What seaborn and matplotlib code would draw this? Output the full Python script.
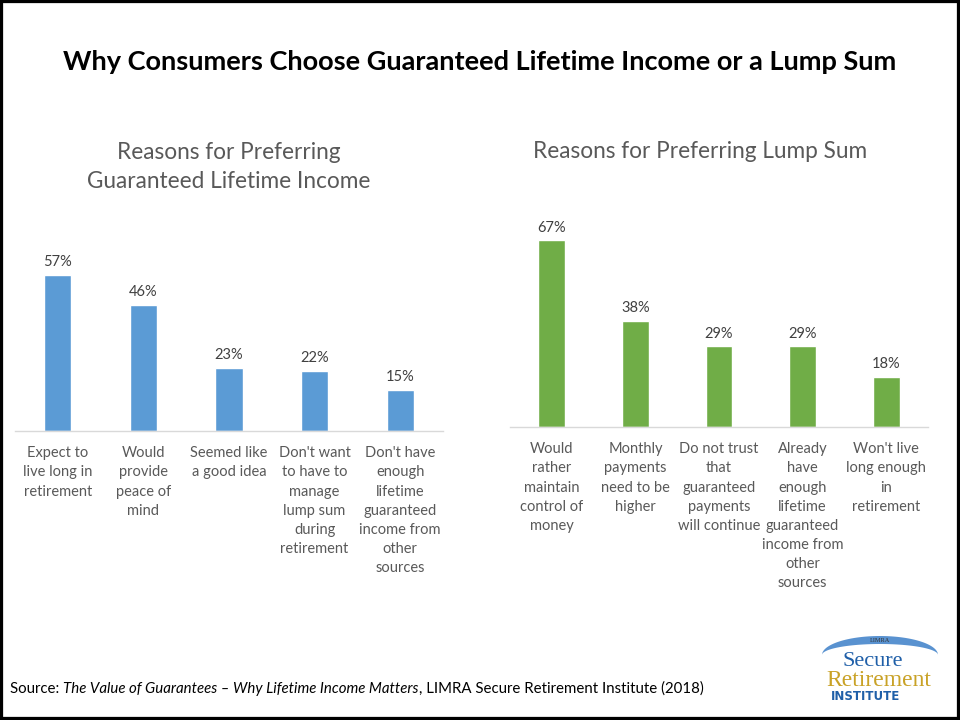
import matplotlib
matplotlib.use("Agg")
import matplotlib.pyplot as plt
import seaborn as sns
import numpy as np
import pandas as pd
from matplotlib.patches import Rectangle, Polygon

# data
income_reasons = ["Expect to\nlive long in\nretirement",
                  "Would\nprovide\npeace of\nmind",
                  "Seemed like\na good idea",
                  "Don't want\nto have to\nmanage\nlump sum\nduring\nretirement",
                  "Don't have\nenough\nlifetime\nguaranteed\nincome from\nother\nsources"]
income_pct = [57, 46, 23, 22, 15]

lump_reasons = ["Would\nrather\nmaintain\ncontrol of\nmoney",
                "Monthly\npayments\nneed to be\nhigher",
                "Do not trust\nthat\nguaranteed\npayments\nwill continue",
                "Already\nhave\nenough\nlifetime\nguaranteed\nincome from\nother\nsources",
                "Won't live\nlong enough\nin\nretirement"]
lump_pct = [67, 38, 29, 29, 18]

sns.set_style("white")
plt.rcParams['font.family'] = ['Lato', 'DejaVu Sans']

W, H = 960, 720
fig = plt.figure(figsize=(9.6, 7.2), dpi=100)

def px_axes(x0, x1, y_top, y_base):
    return fig.add_axes([x0 / W, (H - y_base) / H, (x1 - x0) / W, (y_base - y_top) / H])

def draw_panel(ax, labels, vals, color, top):
    df = pd.DataFrame({"reason": labels, "pct": vals})
    sns.barplot(data=df, x="reason", y="pct", color=color, width=0.32,
                saturation=1, ax=ax)
    ax.set_ylim(0, top)
    ax.set_xlim(-0.5, len(labels) - 0.5)
    ax.set_xlabel("")
    ax.set_ylabel("")
    ax.set_yticks([])
    for s in ["left", "right", "top"]:
        ax.spines[s].set_visible(False)
    ax.spines["bottom"].set_color("#D9D9D9")
    ax.spines["bottom"].set_linewidth(1)
    ax.tick_params(axis="x", length=0, pad=11, labelsize=10.5,
                   labelcolor="#595959")
    for t in ax.get_xticklabels():
        t.set_linespacing(1.47)
        t.set_verticalalignment("top")
    ax.bar_label(ax.containers[0], labels=[f"{v}%" for v in vals],
                 padding=4, fontsize=10.5, color="#404040")
    ax.patch.set_alpha(0)

ax1 = px_axes(15, 443, 200, 431)
draw_panel(ax1, income_reasons, income_pct, "#5B9BD5", (431 - 200) / 2.74)

ax2 = px_axes(510, 928, 200, 427)
draw_panel(ax2, lump_reasons, lump_pct, "#70AD47", (427 - 200) / 2.79)

# titles
fig.text(480 / W, 1 - 62 / H, "Why Consumers Choose Guaranteed Lifetime Income or a Lump Sum",
         ha="center", va="center", fontsize=19.5, fontweight="bold", color="black")
fig.text(229 / W, 1 - 167 / H, "Reasons for Preferring\nGuaranteed Lifetime Income",
         ha="center", va="center", fontsize=16.3, color="#595959", linespacing=1.5)
fig.text(700 / W, 1 - 152 / H, "Reasons for Preferring Lump Sum",
         ha="center", va="center", fontsize=16.3, color="#595959")

# source line with italic title
parts = [("Source: ", "normal"),
         ("The Value of Guarantees \u2013 Why Lifetime Income Matters", "italic"),
         (", LIMRA Secure Retirement Institute (2018)", "normal")]
fig.canvas.draw()
renderer = fig.canvas.get_renderer()
x = 10
for txt, style in parts:
    t = fig.text(x / W, 1 - 689 / H, txt, ha="left", va="center", fontsize=10.8,
                 style=style, color="black")
    x += t.get_window_extent(renderer).width

# logo
theta = np.linspace(0, np.pi, 60)
outer = np.column_stack([880 + 58 * np.cos(theta), 655 - 19 * np.sin(theta)])
inner = np.column_stack([880 + 58 * np.cos(theta[::-1]), 655 - 11 * np.sin(theta[::-1])])
crescent = np.vstack([outer, inner])
crescent_fig = np.column_stack([crescent[:, 0] / W, 1 - crescent[:, 1] / H])
fig.patches.append(Polygon(crescent_fig, closed=True, transform=fig.transFigure,
                           facecolor="#3C7FC8", edgecolor="none", alpha=0.85))
fig.text(880 / W, 1 - 640 / H, "LIMRA", ha="center", va="center", fontsize=4.5,
         color="#333333", family="Liberation Serif")
fig.text(873 / W, 1 - 661 / H, "Secure", ha="center", va="center", fontsize=16,
         color="#1F5FA8", family="Liberation Serif")
fig.text(879 / W, 1 - 680 / H, "Retirement", ha="center", va="center", fontsize=17,
         color="#C9A227", family="Liberation Serif")
fig.text(866 / W, 1 - 696 / H, "INSTITUTE", ha="center", va="center", fontsize=8.5,
         color="#1F5FA8", fontweight="bold", family="DejaVu Sans")

# border
fig.patches.append(Rectangle((0, 0), 1, 1, transform=fig.transFigure, fill=False,
                             edgecolor="black", linewidth=4.5))

fig.savefig("out.png", dpi=100)
